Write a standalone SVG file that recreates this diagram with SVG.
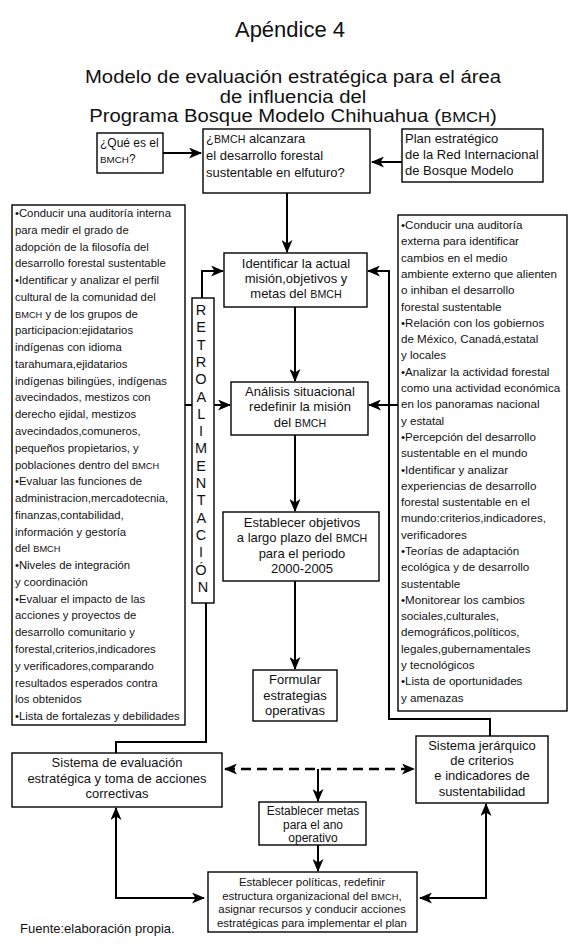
<svg xmlns="http://www.w3.org/2000/svg" width="575" height="950" viewBox="0 0 575 950">
<defs>
<marker id="ah" markerUnits="userSpaceOnUse" markerWidth="13" markerHeight="11" refX="12" refY="5.5" orient="auto-start-reverse" viewBox="0 0 13 11">
<path d="M0,0 L13,5.5 L0,11 L3.5,5.5 z" fill="#000"/>
</marker>
</defs>
<style>
text{font-family:"Liberation Sans",Arial,sans-serif;fill:#111}
.box{fill:#fff;stroke:#000;stroke-width:1.4}
.title{font-size:22px;text-anchor:middle}
.sub{font-size:17.5px;text-anchor:middle}
.body{font-size:11.3px}
.bodyr{font-size:11.6px}
.main{font-size:13px;text-anchor:middle}
.metas{font-size:12px;text-anchor:middle}
.top{font-size:13px}
.que{font-size:12px}
.pol{font-size:11.4px;text-anchor:middle}
.retro{font-size:14.5px;text-anchor:middle}
.sc{font-size:0.82em}
.ln{fill:none;stroke:#000;stroke-width:2}
.arr{fill:none;stroke:#000;stroke-width:2;marker-end:url(#ah)}
.dbl{fill:none;stroke:#000;stroke-width:2;marker-start:url(#ah);marker-end:url(#ah)}
.dash{fill:none;stroke:#000;stroke-width:2.6;stroke-dasharray:10 6;marker-start:url(#ah);marker-end:url(#ah)}
</style>

<g id="titles">
<text class="title" x="290" y="37">Apéndice 4</text>
<g transform="translate(293,0) scale(1.16,1)">
<text class="sub" x="0" y="83">Modelo de evaluación estratégica para el área</text>
<text class="sub" x="0" y="102.7">de influencia del</text>
<text class="sub" x="0" y="122.4">Programa Bosque Modelo Chihuahua (<tspan class="sc">BMCH</tspan>)</text>
</g>
</g>

<g id="connectors">
<path class="arr" d="M163,153 H201"/>
<path class="arr" d="M402,162 H372"/>
<path class="arr" d="M287,193 V252"/>
<path class="arr" d="M295,307 V381"/>
<path class="arr" d="M295,435 V511"/>
<path class="arr" d="M295,581 V669"/>
<path class="arr" d="M185,405 H230"/>
<path class="arr" d="M398,405 H369"/>
<path class="arr" d="M202,298 V271 H223"/>
<path class="arr" d="M490,736 V719 H389 V271 H368"/>
<path class="ln" d="M116,753 V742 H206 V603"/>
<path class="dash" d="M225,769 H414"/>
<path class="arr" d="M318,769 V801"/>
<path class="arr" d="M318,845 V871"/>
<path class="dbl" d="M204,898 H116 V808"/>
<path class="dbl" d="M420,898 H486 V804"/>
</g>

<g id="n-que">
<rect class="box" x="97" y="133" width="66" height="40"/>
<text class="que" x="100" y="147">¿Qué es el</text>
<text class="que" x="100" y="163"><tspan class="sc">BMCH</tspan>?</text>
</g>

<g id="n-alcanzara">
<rect class="box" x="203" y="129" width="167" height="64"/>
<text class="top" x="206" y="143"><tspan>¿</tspan><tspan class="sc">BMCH</tspan> alcanzara</text>
<text class="top" x="206" y="160">el desarrollo forestal</text>
<text class="top" x="206" y="177">sustentable en elfuturo?</text>
</g>

<g id="n-plan">
<rect class="box" x="402" y="129" width="141" height="53"/>
<text class="top" x="405" y="143">Plan estratégico</text>
<text class="top" x="405" y="159">de la Red Internacional</text>
<text class="top" x="405" y="175">de Bosque Modelo</text>
</g>

<g id="n-interna">
<rect class="box" x="12" y="205" width="173" height="520"/>
<text class="body" x="15" y="217">
<tspan x="15" dy="0">•Conducir una auditoría interna</tspan>
<tspan x="15" dy="16.77">para medir el grado de</tspan>
<tspan x="15" dy="16.77">adopción de la filosofía del</tspan>
<tspan x="15" dy="16.77">desarrollo forestal sustentable</tspan>
<tspan x="15" dy="16.77">•Identificar y analizar el perfil</tspan>
<tspan x="15" dy="16.77">cultural de la comunidad del</tspan>
<tspan x="15" dy="16.77"><tspan class="sc">BMCH</tspan> y de los grupos de</tspan>
<tspan x="15" dy="16.77">participacion:ejidatarios</tspan>
<tspan x="15" dy="16.77">indígenas con idioma</tspan>
<tspan x="15" dy="16.77">tarahumara,ejidatarios</tspan>
<tspan x="15" dy="16.77">indígenas bilingües, indígenas</tspan>
<tspan x="15" dy="16.77">avecindados, mestizos con</tspan>
<tspan x="15" dy="16.77">derecho ejidal, mestizos</tspan>
<tspan x="15" dy="16.77">avecindados,comuneros,</tspan>
<tspan x="15" dy="16.77">pequeños propietarios, y</tspan>
<tspan x="15" dy="16.77">poblaciones dentro del <tspan class="sc">BMCH</tspan></tspan>
<tspan x="15" dy="16.77">•Evaluar las funciones de</tspan>
<tspan x="15" dy="16.77">administracion,mercadotecnia,</tspan>
<tspan x="15" dy="16.77">finanzas,contabilidad,</tspan>
<tspan x="15" dy="16.77">información y gestoría</tspan>
<tspan x="15" dy="16.77">del <tspan class="sc">BMCH</tspan></tspan>
<tspan x="15" dy="16.77">•Niveles de integración</tspan>
<tspan x="15" dy="16.77">y coordinación</tspan>
<tspan x="15" dy="16.77">•Evaluar el impacto de las</tspan>
<tspan x="15" dy="16.77">acciones y proyectos de</tspan>
<tspan x="15" dy="16.77">desarrollo comunitario y</tspan>
<tspan x="15" dy="16.77">forestal,criterios,indicadores</tspan>
<tspan x="15" dy="16.77">y verificadores,comparando</tspan>
<tspan x="15" dy="16.77">resultados esperados contra</tspan>
<tspan x="15" dy="16.77">los obtenidos</tspan>
<tspan x="15" dy="16.77">•Lista de fortalezas y debilidades</tspan>
</text>
</g>

<g id="n-externa">
<rect class="box" x="398" y="215" width="169" height="496"/>
<text class="bodyr" x="401" y="229">
<tspan x="401" dy="0">•Conducir una auditoría</tspan>
<tspan x="401" dy="16.3">externa  para identificar</tspan>
<tspan x="401" dy="16.3">cambios en el medio</tspan>
<tspan x="401" dy="16.3">ambiente externo que alienten</tspan>
<tspan x="401" dy="16.3">o inhiban el desarrollo</tspan>
<tspan x="401" dy="16.3">forestal sustentable</tspan>
<tspan x="401" dy="16.3">•Relación con los gobiernos</tspan>
<tspan x="401" dy="16.3">de México, Canadá,estatal</tspan>
<tspan x="401" dy="16.3">y locales</tspan>
<tspan x="401" dy="16.3">•Analizar  la actividad forestal</tspan>
<tspan x="401" dy="16.3">como una actividad económica</tspan>
<tspan x="401" dy="16.3">en los panoramas nacional</tspan>
<tspan x="401" dy="16.3">y estatal</tspan>
<tspan x="401" dy="16.3">•Percepción del desarrollo</tspan>
<tspan x="401" dy="16.3">sustentable en el mundo</tspan>
<tspan x="401" dy="16.3">•Identificar y analizar</tspan>
<tspan x="401" dy="16.3">experiencias de desarrollo</tspan>
<tspan x="401" dy="16.3">forestal sustentable en el</tspan>
<tspan x="401" dy="16.3">mundo:criterios,indicadores,</tspan>
<tspan x="401" dy="16.3">verificadores</tspan>
<tspan x="401" dy="16.3">•Teorías de adaptación</tspan>
<tspan x="401" dy="16.3">ecológica y de desarrollo</tspan>
<tspan x="401" dy="16.3">sustentable</tspan>
<tspan x="401" dy="16.3">•Monitorear los cambios</tspan>
<tspan x="401" dy="16.3">sociales,culturales,</tspan>
<tspan x="401" dy="16.3">demográficos,políticos,</tspan>
<tspan x="401" dy="16.3">legales,gubernamentales</tspan>
<tspan x="401" dy="16.3">y tecnológicos</tspan>
<tspan x="401" dy="16.3">•Lista de oportunidades</tspan>
<tspan x="401" dy="16.3">y amenazas</tspan>
</text>
</g>

<g id="n-retro">
<rect class="box" x="192" y="298" width="22" height="305"/>
<text class="retro" x="203" y="315">
<tspan x="203" dy="0">R</tspan>
<tspan x="203" dy="17.3">E</tspan>
<tspan x="203" dy="17.3">T</tspan>
<tspan x="203" dy="17.3">R</tspan>
<tspan x="203" dy="17.3">O</tspan>
<tspan x="203" dy="17.3">A</tspan>
<tspan x="203" dy="17.3">L</tspan>
<tspan x="203" dy="17.3">I</tspan>
<tspan x="203" dy="17.3">M</tspan>
<tspan x="203" dy="17.3">E</tspan>
<tspan x="203" dy="17.3">N</tspan>
<tspan x="203" dy="17.3">T</tspan>
<tspan x="203" dy="17.3">A</tspan>
<tspan x="203" dy="17.3">C</tspan>
<tspan x="203" dy="17.3">I</tspan>
<tspan x="203" dy="17.3">Ó</tspan>
<tspan x="203" dy="17.3">N</tspan>
</text>
</g>

<g id="n-identificar">
<rect class="box" x="224" y="253" width="143" height="54"/>
<text class="main" x="296" y="268">Identificar la actual</text>
<text class="main" x="296" y="283">misión,objetivos y</text>
<text class="main" x="296" y="298">metas del <tspan class="sc">BMCH</tspan></text>
</g>

<g id="n-analisis">
<rect class="box" x="231" y="382" width="137" height="53"/>
<text class="main" x="300" y="396">Análisis situacional</text>
<text class="main" x="300" y="411">redefinir la misión</text>
<text class="main" x="300" y="427">del <tspan class="sc">BMCH</tspan></text>
</g>

<g id="n-objetivos">
<rect class="box" x="223" y="512" width="156" height="69"/>
<text class="main" x="302" y="527">Establecer objetivos</text>
<text class="main" x="302" y="542">a largo plazo del <tspan class="sc">BMCH</tspan></text>
<text class="main" x="302" y="558">para el periodo</text>
<text class="main" x="302" y="573">2000-2005</text>
</g>

<g id="n-formular">
<rect class="box" x="253" y="670" width="84" height="51"/>
<text class="main" x="295" y="684">Formular</text>
<text class="main" x="295" y="700">estrategias</text>
<text class="main" x="295" y="715">operativas</text>
</g>

<g id="n-evaluacion">
<rect class="box" x="12" y="753" width="210" height="54"/>
<text class="main" x="117" y="767">Sistema de evaluación</text>
<text class="main" x="117" y="783">estratégica y toma de acciones</text>
<text class="main" x="117" y="798">correctivas</text>
</g>

<g id="n-jerarquico">
<rect class="box" x="416" y="736" width="132" height="67"/>
<text class="main" x="482" y="750">Sistema jerárquico</text>
<text class="main" x="482" y="765">de criterios</text>
<text class="main" x="482" y="780">e indicadores de</text>
<text class="main" x="482" y="796">sustentabilidad</text>
</g>

<g id="n-metas">
<rect class="box" x="259" y="802" width="107" height="43"/>
<text class="metas" x="313" y="815">Establecer metas</text>
<text class="metas" x="313" y="828.5">para el ano</text>
<text class="metas" x="313" y="842">operativo</text>
</g>

<g id="n-politicas">
<rect class="box" x="208" y="872" width="209" height="60"/>
<text class="pol" x="312" y="886">Establecer políticas, redefinir</text>
<text class="pol" x="312" y="899.5">estructura organizacional del <tspan class="sc">BMCH</tspan>,</text>
<text class="pol" x="312" y="913">asignar recursos y conducir acciones</text>
<text class="pol" x="312" y="926.5">estratégicas para implementar el plan</text>
</g>

<g id="source">
<text x="20" y="933" style="font-size:13px">Fuente:elaboración  propia.</text>
</g>
</svg>
